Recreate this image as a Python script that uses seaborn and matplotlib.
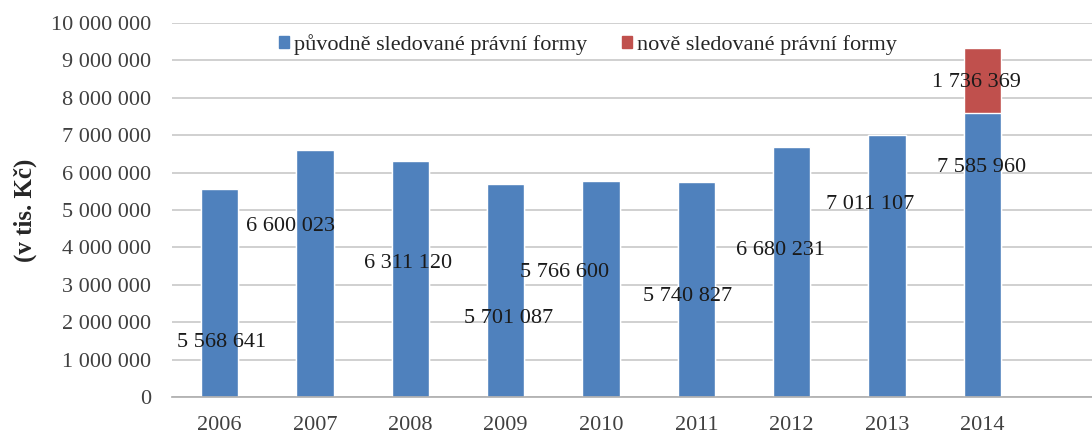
import pandas as pd
import seaborn as sns
import matplotlib.pyplot as plt
from matplotlib.patches import Patch
from matplotlib.ticker import FuncFormatter

years = ["2006", "2007", "2008", "2009", "2010", "2011", "2012", "2013", "2014"]
puvodni = [5568641, 6600023, 6311120, 5701087, 5766600, 5740827, 6680231, 7011107, 7585960]
nove = [0, 0, 0, 0, 0, 0, 0, 0, 1736369]
ticks = list(range(0, 10000001, 1000000))

# where the labels sit in the original (x offset from bar, y in data units)
lab_dx = [0.02, -0.26, -0.02, 0.03, -0.38, -0.09, -0.12, -0.18, -0.01]
lab_y = [1.47e6, 4.57e6, 3.56e6, 2.11e6, 3.34e6, 2.70e6, 3.93e6, 5.16e6, 6.15e6]

BLUE = "#4F81BD"
RED = "#C0504D"


def fmt(v):
    return f"{int(v):,}".replace(",", " ")


df = pd.DataFrame({"rok": years, "puvodni": puvodni, "nove": nove})
df["celkem"] = df["puvodni"] + df["nove"]

sns.set_theme(style="white")
plt.rcParams["font.family"] = ["Liberation Serif", "DejaVu Serif"]

fig = plt.figure(figsize=(10.92, 4.36), dpi=100)
ax = fig.add_axes([0.1575, 0.0894, 0.8425, 0.8578])

sns.barplot(data=df, x="rok", y="celkem", color=RED, saturation=1, width=0.39, ax=ax)
sns.barplot(data=df, x="rok", y="puvodni", color=BLUE, saturation=1, width=0.39, ax=ax)

for i, v in enumerate(puvodni):
    ax.text(i + lab_dx[i], lab_y[i], fmt(v), ha="center", va="center",
            fontsize=16, color="#1a1a1a")
ax.text(len(years) - 1 - 0.06, 8.40e6, fmt(nove[-1]), ha="center", va="center",
        fontsize=16, color="#1a1a1a")

ax.set_ylim(0, 10000000)
ax.set_xlim(-0.5, 9.15)
ax.set_yticks(ticks)
ax.yaxis.set_major_formatter(FuncFormatter(lambda v, p: fmt(v)))
ax.grid(axis="y", color="#C8C8C8", linewidth=1.2)
ax.set_axisbelow(True)
for s in ["top", "right", "left"]:
    ax.spines[s].set_visible(False)
ax.spines["bottom"].set_color("#B0B0B0")
ax.tick_params(axis="both", length=0, labelsize=16, colors="#404040")
ax.tick_params(axis="y", pad=15)
ax.tick_params(axis="x", pad=14)
ax.set_xlabel("")
ax.set_ylabel("(v tis. Kč)", fontsize=18, fontweight="bold", color="#262626", labelpad=10)

handles = [Patch(color=BLUE), Patch(color=RED)]
ax.legend(handles, ["původně sledované právní formy", "nově sledované právní formy"],
          loc="upper center", bbox_to_anchor=(0.452, 1.025), ncol=2, frameon=False,
          fontsize=16, handlelength=0.45, handleheight=0.45, handletextpad=0.2,
          columnspacing=1.6, labelcolor="#262626")

fig.savefig("out.png", dpi=100)
